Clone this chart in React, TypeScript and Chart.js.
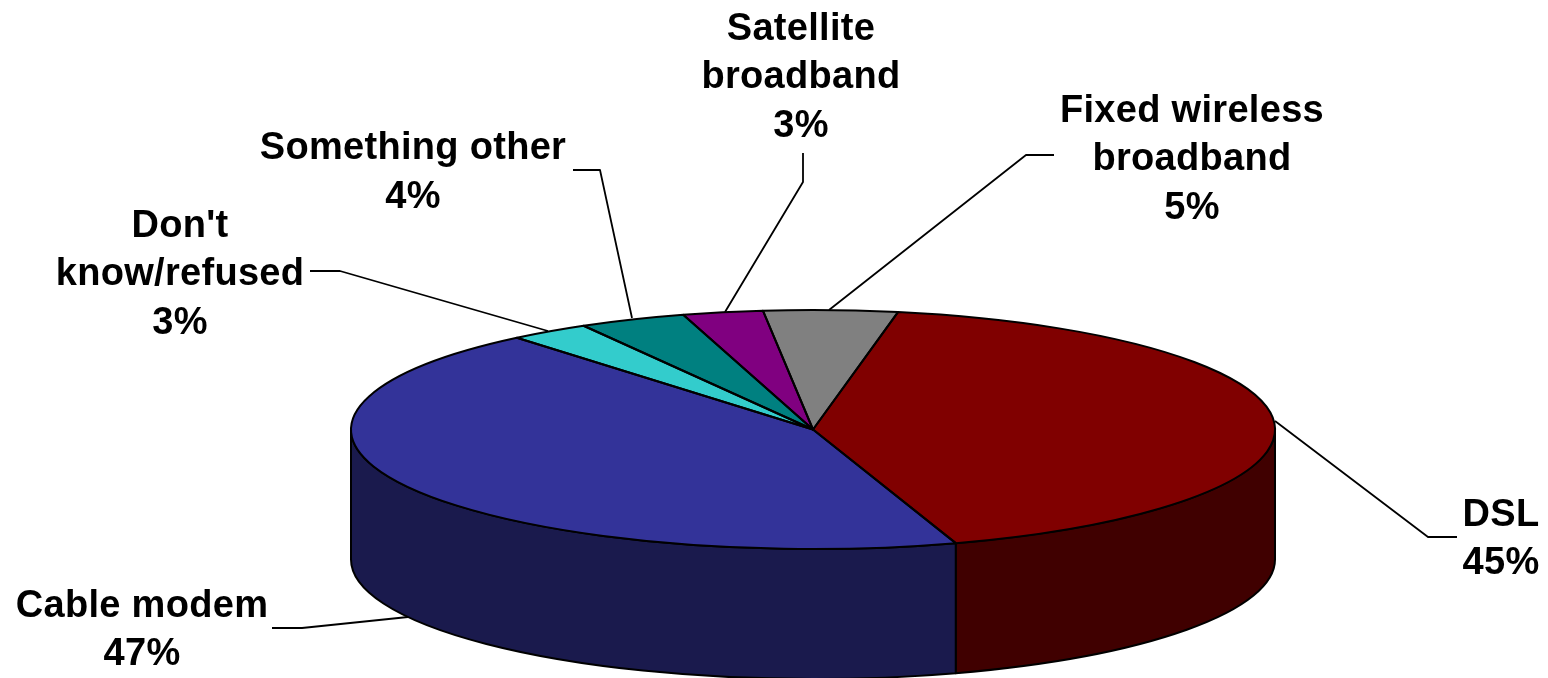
import React, { useEffect, useRef } from "react";
import { Chart, registerables } from "chart.js";

Chart.register(...registerables);

const categories = [
  ["DSL"],
  ["Cable modem"],
  ["Don't", "know/refused"],
  ["Something other"],
  ["Satellite", "broadband"],
  ["Fixed wireless", "broadband"],
];
const shares = [45, 47, 3, 4, 3, 5];
const topColors = ["#800000", "#333399", "#33CCCC", "#008080", "#800080", "#808080"];
const sideColors = ["#400000", "#1A1A4D", "#1A6666", "#004040", "#400040", "#404040"];

const W = 1548;
const H = 678;
const CX = 813;
const CY = 429.5;
const RX = 462;
const RY = 119.5;
const DEPTH = 130;
const START_DEG = 10.6;
const FONT = 'bold 38px "Liberation Sans", Arial, sans-serif';
const LINE_H = 48.5;

// Callout layout: text centre (x, y of first line) and leader polyline
const callouts = [
  { x: 1501, y: 515.5, line: [[1275, 421], [1428, 537], [1457, 537]] },
  { x: 142, y: 606.5, line: [[272, 628], [302, 628], [408, 617]] },
  { x: 180, y: 226.5, line: [[310, 271], [340, 271], [548, 331]] },
  { x: 413, y: 149, line: [[573, 170], [600, 170], [632, 318]] },
  { x: 801, y: 29.5, line: [[803, 153], [803, 182], [725, 312]] },
  { x: 1192, y: 111.5, line: [[1054, 155], [1026, 155], [829, 310]] },
];

const pie3d = {
  id: "pie3d",
  beforeDatasetsDraw(chart: any) {
    const ctx = chart.ctx as CanvasRenderingContext2D;
    const arcs = chart.getDatasetMeta(0).data as any[];
    // walls: only the front half of the ellipse is visible
    arcs.forEach((arc, i) => {
      const p = arc.getProps(["startAngle", "endAngle"], true);
      const tau = Math.PI * 2;
      for (const shift of [-tau, 0, tau]) {
        const a = Math.max(p.startAngle + shift, 0);
        const b = Math.min(p.endAngle + shift, Math.PI);
        if (b <= a) continue;
        ctx.beginPath();
        ctx.ellipse(CX, CY, RX, RY, 0, a, b);
        ctx.ellipse(CX, CY + DEPTH, RX, RY, 0, b, a, true);
        ctx.closePath();
        ctx.fillStyle = sideColors[i];
        ctx.fill();
        ctx.lineWidth = 2;
        ctx.strokeStyle = "#000";
        ctx.lineJoin = "round";
        ctx.stroke();
      }
    });
    // the top face: Chart.js draws circular arcs, seen here through a tilt
    const first = arcs[0].getProps(["x", "y", "outerRadius"], true);
    ctx.save();
    ctx.translate(CX, CY);
    ctx.scale(RX / first.outerRadius, RY / first.outerRadius);
    ctx.translate(-first.x, -first.y);
  },
  afterDatasetsDraw(chart: any) {
    const ctx = chart.ctx as CanvasRenderingContext2D;
    ctx.restore();
    const arcs = chart.getDatasetMeta(0).data as any[];
    ctx.lineWidth = 2;
    ctx.strokeStyle = "#000";
    ctx.lineJoin = "round";
    arcs.forEach((arc) => {
      const p = arc.getProps(["startAngle", "endAngle"], true);
      ctx.beginPath();
      ctx.moveTo(CX, CY);
      ctx.ellipse(CX, CY, RX, RY, 0, p.startAngle, p.endAngle);
      ctx.closePath();
      ctx.stroke();
    });
  },
  afterDraw(chart: any) {
    const ctx = chart.ctx as CanvasRenderingContext2D;
    ctx.save();
    ctx.strokeStyle = "#000";
    ctx.lineWidth = 1.8;
    callouts.forEach((c) => {
      ctx.beginPath();
      c.line.forEach(([x, y], k) => (k ? ctx.lineTo(x, y) : ctx.moveTo(x, y)));
      ctx.stroke();
    });
    ctx.fillStyle = "#000";
    ctx.font = FONT;
    (ctx as any).letterSpacing = "0.3px";
    ctx.textAlign = "center";
    ctx.textBaseline = "middle";
    categories.forEach((lines, i) => {
      const c = callouts[i];
      [...lines, `${shares[i]}%`].forEach((t, k) => {
        ctx.fillText(t, c.x, c.y + k * LINE_H);
      });
    });
    ctx.restore();
  },
};

export default function App() {
  const ref = useRef<HTMLCanvasElement>(null);
  useEffect(() => {
    const chart = new Chart(ref.current as HTMLCanvasElement, {
      type: "pie",
      data: {
        labels: categories.map((c) => c.join(" ")),
        datasets: [
          {
            data: shares,
            backgroundColor: topColors,
            borderWidth: 0,
            clip: false,
          } as any,
        ],
      },
      options: {
        animation: false,
        responsive: false,
        rotation: START_DEG,
        layout: { padding: 0 },
        plugins: { legend: { display: false }, tooltip: { enabled: false } },
      },
      plugins: [pie3d],
    } as any);
    return () => chart.destroy();
  }, []);
  return (
    <div style={{ position: "absolute", left: 0, top: 0, width: W, height: H, background: "#fff" }}>
      <canvas ref={ref} width={W} height={H} style={{ display: "block" }} />
    </div>
  );
}
